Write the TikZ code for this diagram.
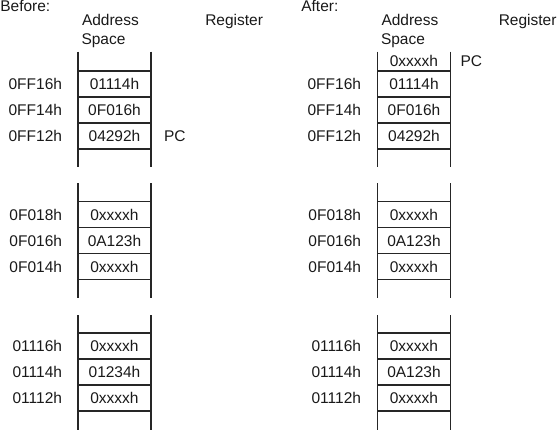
\documentclass[tikz,border=0pt]{standalone}
\usepackage{fontspec}
\setmainfont{Liberation Sans}
\begin{document}
\begin{tikzpicture}[x=1pt,y=-1pt,
  every node/.style={inner sep=0pt,outer sep=0pt,font=\fontsize{15.5}{18}\selectfont,text=black!90},
  cell/.style={draw=black!85,line width=1.1pt,minimum width=73pt,minimum height=26pt},
  rail/.style={draw=black!85,line width=1.6pt},
  addr/.style={anchor=east},
  head/.style={anchor=base west},
  reg/.style={anchor=west}]
\useasboundingbox (0,0) rectangle (558,431);

% headings
\node[head] (before) at (0.3,11) {Before:};
\node[head] (after) at (301.3,11) {After:};
\node[head] (addrL) at (82,26) {Address};
\node[head] (spaceL) at (81.5,44) {Space};
\node[head] (regL) at (205.3,26) {Register};
\node[head] (addrR) at (381.5,26) {Address};
\node[head] (spaceR) at (381,44) {Space};
\node[head] (regR) at (498.8,26) {Register};

% ---------- Before column ----------
% rails
\draw[rail] (78,51.5) -- (78,167); \draw[rail] (151,51.5) -- (151,167);
\draw[rail] (78,183) -- (78,298); \draw[rail] (151,183) -- (151,298);
\draw[rail] (78,315) -- (78,430); \draw[rail] (151,315) -- (151,430);
% block 1
\node[cell] (L11) at (114.5,84) {01114h};
\node[cell] (L12) at (114.5,110) {0F016h};
\node[cell] (L13) at (114.5,136) {04292h};
\node[addr] (La11) at (62,84) {0FF16h};
\node[addr] (La12) at (62,110) {0FF14h};
\node[addr] (La13) at (62,136) {0FF12h};
\node[reg] (pcL) at (164,136) {PC};
% block 2
\node[cell] (L21) at (114.5,214.5) {0xxxxh};
\node[cell] (L22) at (114.5,240.5) {0A123h};
\node[cell] (L23) at (114.5,266.5) {0xxxxh};
\node[addr] (La21) at (62,214.5) {0F018h};
\node[addr] (La22) at (62,240.5) {0F016h};
\node[addr] (La23) at (62,266.5) {0F014h};
% block 3
\node[cell] (L31) at (114.5,346) {0xxxxh};
\node[cell] (L32) at (114.5,372) {01234h};
\node[cell] (L33) at (114.5,398) {0xxxxh};
\node[addr] (La31) at (62,346) {01116h};
\node[addr] (La32) at (62,372) {01114h};
\node[addr] (La33) at (62,398) {01112h};

% ---------- After column ----------
\draw[rail] (377.5,51.5) -- (377.5,167); \draw[rail] (450.5,51.5) -- (450.5,167);
\draw[rail] (377.5,183) -- (377.5,298); \draw[rail] (450.5,183) -- (450.5,298);
\draw[rail] (377.5,315) -- (377.5,430); \draw[rail] (450.5,315) -- (450.5,430);
% block 1
\node (R10) at (414,61) {0xxxxh};
\node[reg] (pcR) at (460.5,61) {PC};
\node[cell] (R11) at (414,84) {01114h};
\node[cell] (R12) at (414,110) {0F016h};
\node[cell] (R13) at (414,136) {04292h};
\node[addr] (Ra11) at (361,84) {0FF16h};
\node[addr] (Ra12) at (361,110) {0FF14h};
\node[addr] (Ra13) at (361,136) {0FF12h};
% block 2
\node[cell] (R21) at (414,214.5) {0xxxxh};
\node[cell] (R22) at (414,240.5) {0A123h};
\node[cell] (R23) at (414,266.5) {0xxxxh};
\node[addr] (Ra21) at (361,214.5) {0F018h};
\node[addr] (Ra22) at (361,240.5) {0F016h};
\node[addr] (Ra23) at (361,266.5) {0F014h};
% block 3
\node[cell] (R31) at (414,346) {0xxxxh};
\node[cell] (R32) at (414,372) {0A123h};
\node[cell] (R33) at (414,398) {0xxxxh};
\node[addr] (Ra31) at (361,346) {01116h};
\node[addr] (Ra32) at (361,372) {01114h};
\node[addr] (Ra33) at (361,398) {01112h};
\end{tikzpicture}
\end{document}
